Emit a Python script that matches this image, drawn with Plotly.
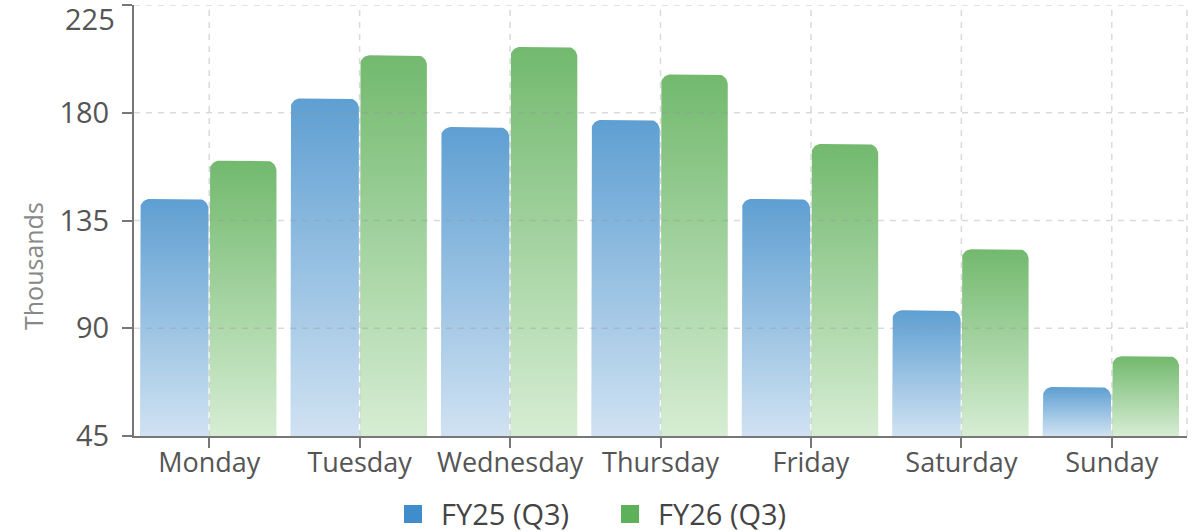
import numpy as np
import plotly.graph_objects as go

# ---- data ----
days = ["Monday", "Tuesday", "Wednesday", "Thursday", "Friday", "Saturday", "Sunday"]
fy25 = [144, 186, 174, 177, 144, 97.5, 65.5]
fy26 = [160, 204, 207.5, 196, 167, 123, 78.3]
series_names = ["FY25 (Q3)", "FY26 (Q3)"]
y_ticks = [45, 90, 135, 180, 225]
y_title = "Thousands"

# ---- style ----
W, H = 1203, 532
M = dict(l=134, r=16, t=5, b=96)
Y_RANGE = [45, 225]
X_RANGE = [-0.5, len(days) - 0.5]
plot_w = W - M["l"] - M["r"]
plot_h = H - M["t"] - M["b"]
px_x = plot_w / (X_RANGE[1] - X_RANGE[0])
px_y = plot_h / (Y_RANGE[1] - Y_RANGE[0])
RADIUS = 10  # px
rx, ry = RADIUS / px_x, RADIUS / px_y


def paper_x(px):
    return (px - M["l"]) / plot_w


def paper_y(py):
    return (H - M["b"] - py) / plot_h


colors = {
    "FY25 (Q3)": ("#5e9fd2", "#d0e2f2", "#3f8ecb"),
    "FY26 (Q3)": ("#72b96e", "#d6edd3", "#5cb159"),
}
# bar extents relative to category center (fraction of category)
offsets = {"FY25 (Q3)": (-0.46, -0.005), "FY26 (Q3)": (0.002, 0.447)}
# legend layout (pixel positions of swatch left edges)
legend_px = {"FY25 (Q3)": 404, "FY26 (Q3)": 621}
LEGEND_CY = 513
SW = 18


def bar_path(x0, x1, top, base):
    n = 10
    xs, ys = [x0], [base]
    t = np.linspace(np.pi, np.pi / 2, n)
    xs += list(x0 + rx + rx * np.cos(t))
    ys += list(top - ry + ry * np.sin(t))
    t = np.linspace(np.pi / 2, 0, n)
    xs += list(x1 - rx + rx * np.cos(t))
    ys += list(top - ry + ry * np.sin(t))
    xs += [x1, x0]
    ys += [base, base]
    return xs, ys


fig = go.Figure()
for name, vals in zip(series_names, [fy25, fy26]):
    dark, light, leg = colors[name]
    a, b = offsets[name]
    for i, v in enumerate(vals):
        xs, ys = bar_path(i + a, i + b, v, Y_RANGE[0])
        fig.add_trace(go.Scatter(
            x=xs, y=ys, mode="lines", fill="toself", name=name,
            legendgroup=name,
            line=dict(width=0, color=dark),
            fillgradient=dict(type="vertical", colorscale=[[0, light], [1, dark]]),
            showlegend=False, hoverinfo="skip",
        ))
    # legend swatch + label
    lx = legend_px[name]
    fig.add_shape(type="rect", xref="paper", yref="paper",
                  x0=paper_x(lx), x1=paper_x(lx + SW),
                  y0=paper_y(LEGEND_CY + 1 + SW / 2), y1=paper_y(LEGEND_CY + 1 - SW / 2),
                  fillcolor=leg, line=dict(width=0), layer="above")
    fig.add_annotation(x=paper_x(lx + SW + 18), xref="paper", xanchor="left",
                       y=paper_y(LEGEND_CY), yref="paper", yanchor="middle",
                       text=name, showarrow=False, borderpad=0,
                       font=dict(size=29, color="#444444"))

# gridlines drawn above bars (faint)
grid_col = "rgba(150,150,150,0.35)"
for yv in y_ticks[1:]:
    fig.add_shape(type="line", xref="paper", yref="y", x0=0, x1=1, y0=yv, y1=yv,
                  line=dict(color=grid_col, width=1.5, dash="6px,6px"), layer="above")
for i in range(len(days)):
    fig.add_shape(type="line", xref="x", yref="paper", x0=i, x1=i, y0=0, y1=1,
                  line=dict(color=grid_col, width=1.5, dash="6px,6px"), layer="above")
fig.add_shape(type="line", xref="paper", yref="paper", x0=1, x1=1, y0=0, y1=1,
              line=dict(color=grid_col, width=1.5, dash="6px,6px"), layer="above")

# top tick label nudged inside the figure (as in the reference)
fig.add_annotation(x=0, xref="paper", xanchor="right", xshift=-17,
                   y=y_ticks[-1], yref="y", yanchor="top", yshift=8,
                   text=str(y_ticks[-1]), showarrow=False,
                   font=dict(size=29, color="#555555"))

# y-axis title (centred on the figure height, as in the reference)
fig.add_annotation(x=paper_x(33), xref="paper", xanchor="center",
                   y=paper_y(H / 2), yref="paper", yanchor="middle",
                   text=y_title, textangle=-90, showarrow=False,
                   font=dict(size=25, color="#888888"))

font_family = "Open Sans, Noto Sans, sans-serif"
fig.update_layout(
    width=W, height=H, margin=M,
    paper_bgcolor="white", plot_bgcolor="white",
    font=dict(family=font_family, color="#555555"),
    showlegend=False,
    xaxis=dict(range=X_RANGE, tickmode="array", tickvals=list(range(len(days))),
               ticktext=days, showgrid=False, zeroline=False,
               showline=True, linecolor="#777777", linewidth=2,
               ticks="outside", ticklen=10, tickwidth=2, tickcolor="#777777",
               tickfont=dict(size=27, color="#555555"), ticklabelstandoff=-8,
               fixedrange=True, automargin=False),
    yaxis=dict(range=Y_RANGE, tickmode="array", tickvals=y_ticks,
               ticktext=[str(v) for v in y_ticks[:-1]] + [""],
               showgrid=False, zeroline=False,
               showline=True, linecolor="#777777", linewidth=2,
               ticks="outside", ticklen=10, tickwidth=2, tickcolor="#777777",
               tickfont=dict(size=29, color="#555555"), ticklabelstandoff=7,
               fixedrange=True, automargin=False),
)

fig.write_html("out.html", config={"displayModeBar": False},
               post_script="document.body.style.margin='0';")
